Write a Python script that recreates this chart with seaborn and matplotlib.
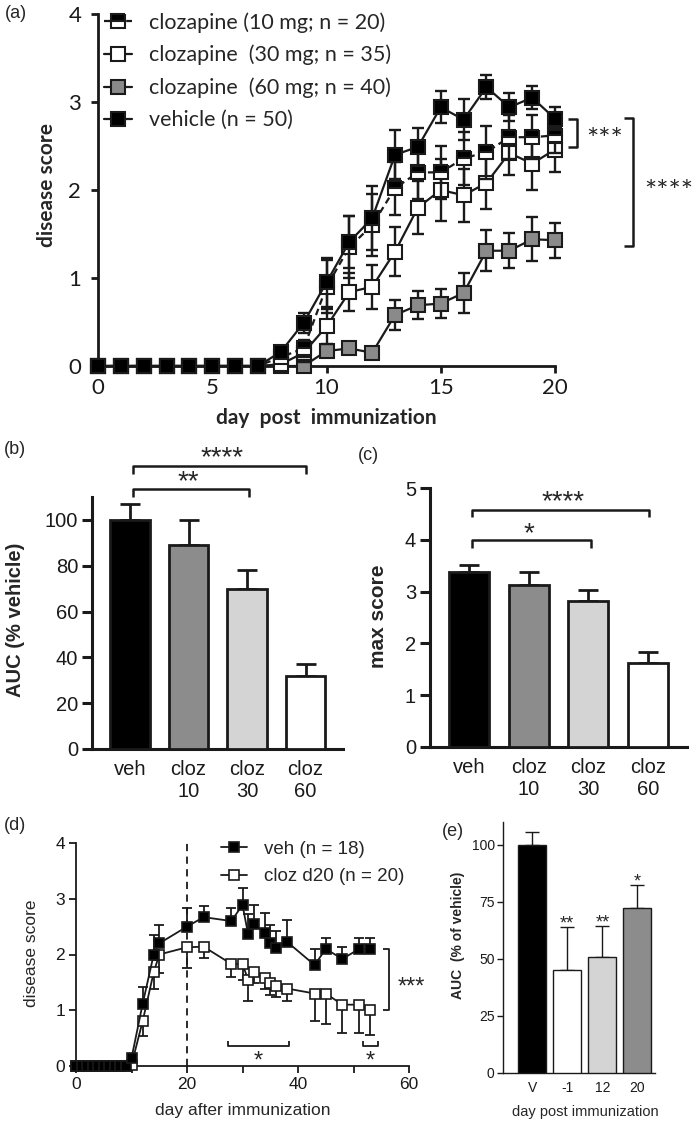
import matplotlib
matplotlib.use("Agg")
import matplotlib.pyplot as plt
import seaborn as sns

sns.set_theme(style="ticks")
plt.rcParams['font.family'] = ['Liberation Sans', 'DejaVu Sans']

W, H = 695, 1124

# ---- panel (a): disease course, days 0-20 ----
days_a = list(range(21))
veh_a = [0] * 8 + [0.16, 0.49, 0.95, 1.41, 1.68, 2.40, 2.49, 2.94, 2.80, 3.17, 2.94, 3.05, 2.81]
veh_a_err = [0] * 8 + [0.05, 0.11, 0.28, 0.30, 0.36, 0.28, 0.22, 0.18, 0.23, 0.14, 0.16, 0.13, 0.13]
c10_a = [0] * 8 + [0.10, 0.20, 0.90, 1.35, 1.60, 2.02, 2.20, 2.20, 2.36, 2.43, 2.60, 2.60, 2.62]
c10_a_err = [0] * 8 + [0.05, 0.10, 0.30, 0.35, 0.35, 0.30, 0.30, 0.30, 0.30, 0.30, 0.25, 0.25, 0.20]
c30_a = [0] * 8 + [0.02, 0.15, 0.45, 0.84, 0.90, 1.30, 1.80, 2.00, 1.94, 2.08, 2.42, 2.30, 2.46]
c30_a_err = [0] * 8 + [0.03, 0.10, 0.20, 0.22, 0.25, 0.28, 0.30, 0.35, 0.30, 0.30, 0.25, 0.30, 0.26]
c60_a = [0] * 8 + [0.0, 0.0, 0.17, 0.20, 0.15, 0.58, 0.69, 0.71, 0.83, 1.31, 1.31, 1.44, 1.43]
c60_a_err = [0] * 8 + [0.0, 0.0, 0.05, 0.06, 0.03, 0.17, 0.16, 0.16, 0.23, 0.23, 0.20, 0.25, 0.20]
labels_a = ['clozapine (10 mg; n = 20)', 'clozapine  (30 mg; n = 35)',
            'clozapine  (60 mg; n = 40)', 'vehicle (n = 50)']

# ---- panel (b) / (c): AUC and max score ----
cats_bc = ['veh', 'cloz\n10', 'cloz\n30', 'cloz\n60']
auc_b = [100, 89, 70, 32]
auc_b_err = [7, 11, 8, 5]
max_c = [3.37, 3.12, 2.81, 1.62]
max_c_err = [0.14, 0.26, 0.23, 0.21]
colors_bc = ['black', '#8c8c8c', '#d4d4d4', 'white']

# ---- panel (d): late treatment ----
days_d = [0, 1, 2, 3, 4, 5, 6, 7, 8, 9, 10, 12, 14, 15, 20, 23, 28, 30, 31, 32,
          34, 35, 36, 38, 43, 45, 48, 51, 53]
veh_d = [0] * 10 + [0.14, 1.11, 2.0, 2.2, 2.5, 2.67, 2.6, 2.89, 2.37, 2.55,
                    2.39, 2.2, 2.12, 2.23, 1.81, 2.1, 1.92, 2.1, 2.1]
veh_d_err = [0] * 10 + [0.05, 0.3, 0.35, 0.33, 0.34, 0.2, 0.23, 0.3, 0.35, 0.33,
                        0.36, 0.33, 0.3, 0.38, 0.29, 0.2, 0.22, 0.2, 0.2]
cloz_d = [0] * 10 + [0.02, 0.8, 1.68, 2.0, 2.13, 2.14, 1.83, 1.83, 1.55, 1.68,
                     1.58, 1.48, 1.43, 1.39, 1.3, 1.3, 1.1, 1.1, 1.0]
cloz_d_err = [0] * 10 + [0.02, 0.27, 0.3, 0.33, 0.38, 0.2, 0.24, 0.28, 0.38, 0.2,
                         0.2, 0.2, 0.2, 0.22, 0.5, 0.55, 0.5, 0.5, 0.45]

# ---- panel (e): AUC by start day ----
cats_e = ['V', '-1', '12', '20']
auc_e = [100, 45, 51, 72.5]
auc_e_err = [5.5, 19, 13.5, 10]
colors_e = ['black', 'white', '#d4d4d4', '#8c8c8c']


def box(l, t, r, b):
    return [l / W, 1 - b / H, (r - l) / W, (b - t) / H]


def fx(x):
    return x / W


def fy(y):
    return 1 - y / H


def style_spines(ax, lw):
    sns.despine(ax=ax)
    for s in ['left', 'bottom']:
        ax.spines[s].set_linewidth(lw)
        ax.spines[s].set_color('k')


def hbracket(ax, x0, x1, y, drop, lw):
    ax.plot([x0, x0, x1, x1], [y - drop, y, y, y - drop], color='k', lw=lw,
            clip_on=False, solid_capstyle='butt')


def vbracket(ax, x, y0, y1, arm, lw):
    ax.plot([x - arm, x, x, x - arm], [y0, y0, y1, y1], color='k', lw=lw,
            clip_on=False, solid_capstyle='butt')


fig = plt.figure(figsize=(W / 100, H / 100), dpi=100)

# ================= (a) =================
ax = fig.add_axes(box(98, 14, 555, 366))
series = [
    (c60_a, c60_a_err, dict(markerfacecolor='#8a8a8a'), '-', labels_a[2], 3),
    (c30_a, c30_a_err, dict(markerfacecolor='white'), '-', labels_a[1], 4),
    (c10_a, c10_a_err, dict(markerfacecolor='black', fillstyle='top',
                            markerfacecoloralt='white'), (0, (3, 2)), labels_a[0], 5),
    (veh_a, veh_a_err, dict(markerfacecolor='black'), '-', labels_a[3], 6),
]
for vals, errs, mk, ls, lab, z in series:
    ax.errorbar(days_a[8:], vals[8:], yerr=errs[8:], fmt='none', ecolor='k',
                elinewidth=1.7, capsize=4, capthick=1.7, zorder=z, clip_on=False)
    sns.lineplot(x=days_a, y=vals, ax=ax, color='k', linestyle=ls, linewidth=1.6,
                 marker='s', markersize=10, markeredgecolor='k', markeredgewidth=1.5,
                 label=lab, zorder=z, clip_on=False, **mk)
ax.set_xlim(0, 20)
ax.set_ylim(0, 4)
ax.set_xticks([0, 5, 10, 15, 20])
ax.set_yticks([0, 1, 2, 3, 4])
ax.set_xlabel('')
ax.set_ylabel('')
style_spines(ax, 2)
ax.tick_params(axis='both', length=5, width=2, labelsize=16, labelfontfamily='Lato',
               color='k', labelcolor='k')
ax.tick_params(axis='x', pad=4)
ax.tick_params(axis='y', pad=7)
hs, ls_ = ax.get_legend_handles_labels()
order = [2, 1, 0, 3]
ax.legend([hs[i] for i in order], [ls_[i] for i in order], loc='upper left',
          bbox_to_anchor=(0.014, 1.005), frameon=False,
          prop={'family': 'Lato', 'size': 15.5}, handlelength=1.3, handletextpad=0.75,
          labelspacing=0.56, borderpad=0, borderaxespad=0)
vbracket(ax, 20.96, veh_a[-1], c30_a[-1] + 0.03, 0.4, 1.8)
vbracket(ax, 23.41, veh_a[-1] + 0.01, c60_a[-1] - 0.07, 0.4, 1.8)
ax.text(21.35, 2.47, '***', fontsize=21, fontfamily='Lato', va='baseline', ha='left')
ax.text(23.9, 1.87, '****', fontsize=21, fontfamily='Lato', va='baseline', ha='left')
fig.text(fx(47), fy(185), 'disease score', rotation=90, ha='center', va='center',
         fontsize=15, fontweight='bold', fontfamily='Lato')
fig.text(fx(326), fy(418), 'day  post  immunization', ha='center', va='center',
         fontsize=15, fontweight='bold', fontfamily='Lato')
fig.text(fx(16), fy(14), '(a)', ha='center', va='center', fontsize=13)

# ================= (b) =================
ax = fig.add_axes(box(92, 497, 343, 749))
sns.barplot(x=cats_bc, y=auc_b, hue=cats_bc, palette=colors_bc, legend=False,
            width=0.68, edgecolor='k', linewidth=2, saturation=1, ax=ax, zorder=3)
ax.errorbar(range(4), auc_b, yerr=[[0] * 4, auc_b_err], fmt='none', ecolor='k',
            elinewidth=2, capsize=7, capthick=2, zorder=2)
ax.set_xlim(-0.65, 3.64)
ax.set_ylim(0, 110)
ax.set_yticks([0, 20, 40, 60, 80, 100])
style_spines(ax, 2.2)
ax.tick_params(axis='y', length=7, width=2.2, labelsize=14.5, pad=3, color='k', labelcolor='k')
ax.tick_params(axis='x', length=0, labelsize=14.5, pad=8, labelcolor='k')
hbracket(ax, 0.05, 3.0, 123.5, 3.5, 1.8)
hbracket(ax, 0.05, 2.03, 113.5, 3.5, 1.8)
ax.text(1.57, 124.0, '****', fontsize=20, ha='center', va='baseline')
ax.text(1.0, 113.5, '**', fontsize=20, ha='center', va='baseline')
fig.text(fx(16), fy(620), 'AUC (% vehicle)', rotation=90, ha='center', va='center',
         fontsize=14.5, fontweight='bold')
fig.text(fx(15), fy(449), '(b)', ha='center', va='center', fontsize=13)

# ================= (c) =================
ax = fig.add_axes(box(430, 488, 687, 747))
sns.barplot(x=cats_bc, y=max_c, hue=cats_bc, palette=colors_bc, legend=False,
            width=0.68, edgecolor='k', linewidth=2, saturation=1, ax=ax, zorder=3)
ax.errorbar(range(4), max_c, yerr=[[0] * 4, max_c_err], fmt='none', ecolor='k',
            elinewidth=2, capsize=7, capthick=2, zorder=2)
ax.set_xlim(-0.66, 3.66)
ax.set_ylim(0, 5)
ax.set_yticks([0, 1, 2, 3, 4, 5])
style_spines(ax, 2.2)
ax.tick_params(axis='y', length=7, width=2.2, labelsize=14.5, pad=3, color='k', labelcolor='k')
ax.tick_params(axis='x', length=0, labelsize=14.5, pad=8, labelcolor='k')
hbracket(ax, 0.04, 3.02, 4.58, 0.14, 1.8)
hbracket(ax, 0.04, 2.04, 4.0, 0.15, 1.8)
ax.text(1.57, 4.6, '****', fontsize=20, ha='center', va='baseline')
ax.text(1.0, 3.97, '*', fontsize=20, ha='center', va='baseline')
fig.text(fx(378), fy(616), 'max score', rotation=90, ha='center', va='center',
         fontsize=15, fontweight='bold')
fig.text(fx(368), fy(455), '(c)', ha='center', va='center', fontsize=13)

# ================= (d) =================
ax = fig.add_axes(box(76, 843, 409, 1066))
ax.axvline(20, color='k', lw=1.3, ls=(0, (4, 3)), zorder=1)
ax.errorbar(days_d[10:], cloz_d[10:], yerr=[cloz_d_err[10:], [0] * 19], fmt='none',
            ecolor='k', elinewidth=1.3, capsize=3.5, capthick=1.3, zorder=3)
ax.errorbar(days_d[10:], veh_d[10:], yerr=[[0] * 19, veh_d_err[10:]], fmt='none',
            ecolor='k', elinewidth=1.3, capsize=3.5, capthick=1.3, zorder=4)
sns.lineplot(x=days_d, y=cloz_d, ax=ax, color='k', linewidth=1.3, marker='s',
             markersize=7.5, markerfacecolor='white', markeredgecolor='k',
             markeredgewidth=1.2, label='cloz d20 (n = 20)', zorder=3, clip_on=False)
sns.lineplot(x=days_d, y=veh_d, ax=ax, color='k', linewidth=1.3, marker='s',
             markersize=7.5, markerfacecolor='black', markeredgecolor='k',
             markeredgewidth=1.2, label='veh (n = 18)', zorder=4, clip_on=False)
ax.set_xlim(0, 60)
ax.set_ylim(0, 4)
ax.set_xticks([0, 20, 40, 60])
ax.set_xticks([10, 30, 50], minor=True)
ax.set_yticks([0, 1, 2, 3, 4])
ax.set_xlabel('')
ax.set_ylabel('')
style_spines(ax, 1.3)
ax.tick_params(axis='both', which='both', length=5, width=1.3, labelsize=12.5,
               color='k', labelcolor='k', pad=3)
hs, ls_ = ax.get_legend_handles_labels()
ax.legend([hs[1], hs[0]], [ls_[1], ls_[0]], loc='upper left',
          bbox_to_anchor=(0.435, 1.01), frameon=False, fontsize=13.5,
          handlelength=1.4, handletextpad=0.9, labelspacing=0.55, borderpad=0,
          borderaxespad=0)
vbracket(ax, 56.4, veh_d[-1], cloz_d[-1], 1.1, 1.3)
ax.text(60.4, 1.3, '***', fontsize=17, ha='center', va='baseline')
hbracket(ax, 27.3, 38.4, 0.36, -0.08, 1.3)
hbracket(ax, 51.7, 54.4, 0.36, -0.08, 1.3)
ax.text(32.8, -0.03, '*', fontsize=17, ha='center', va='baseline')
ax.text(53.0, -0.03, '*', fontsize=17, ha='center', va='baseline')
fig.text(fx(32), fy(953), 'disease score', rotation=90, ha='center', va='center',
         fontsize=12.5)
fig.text(fx(243), fy(1110), 'day after immunization', ha='center', va='center',
         fontsize=12.5)
fig.text(fx(15), fy(826), '(d)', ha='center', va='center', fontsize=13)

# ================= (e) =================
ax = fig.add_axes(box(503, 822, 655, 1073))
sns.barplot(x=cats_e, y=auc_e, hue=cats_e, palette=colors_e, legend=False,
            width=0.8, edgecolor='k', linewidth=1, saturation=1, ax=ax, zorder=3)
ax.errorbar(range(4), auc_e, yerr=[[0] * 4, auc_e_err], fmt='none', ecolor='k',
            elinewidth=1, capsize=5, capthick=1, zorder=2)
ax.set_xlim(-0.83, 3.5)
ax.set_ylim(0, 110)
ax.set_yticks([0, 25, 50, 75, 100])
style_spines(ax, 1)
ax.tick_params(axis='y', length=4, width=1, labelsize=10, pad=2, color='k', labelcolor='k')
ax.tick_params(axis='x', length=0, labelsize=10, pad=6, labelcolor='k')
for i, s in zip([1, 2, 3], ['**', '**', '*']):
    ax.text(i, auc_e[i] + auc_e_err[i] - 0.8, s, fontsize=13, ha='center', va='baseline')
fig.text(fx(458), fy(935), 'AUC  (% of vehicle)', rotation=90, ha='center',
         va='center', fontsize=10, fontweight='bold')
fig.text(fx(585), fy(1112), 'day post immunization', ha='center', va='center',
         fontsize=10.5)
fig.text(fx(453), fy(832), '(e)', ha='center', va='center', fontsize=13)

fig.savefig('out.png', dpi=100)
